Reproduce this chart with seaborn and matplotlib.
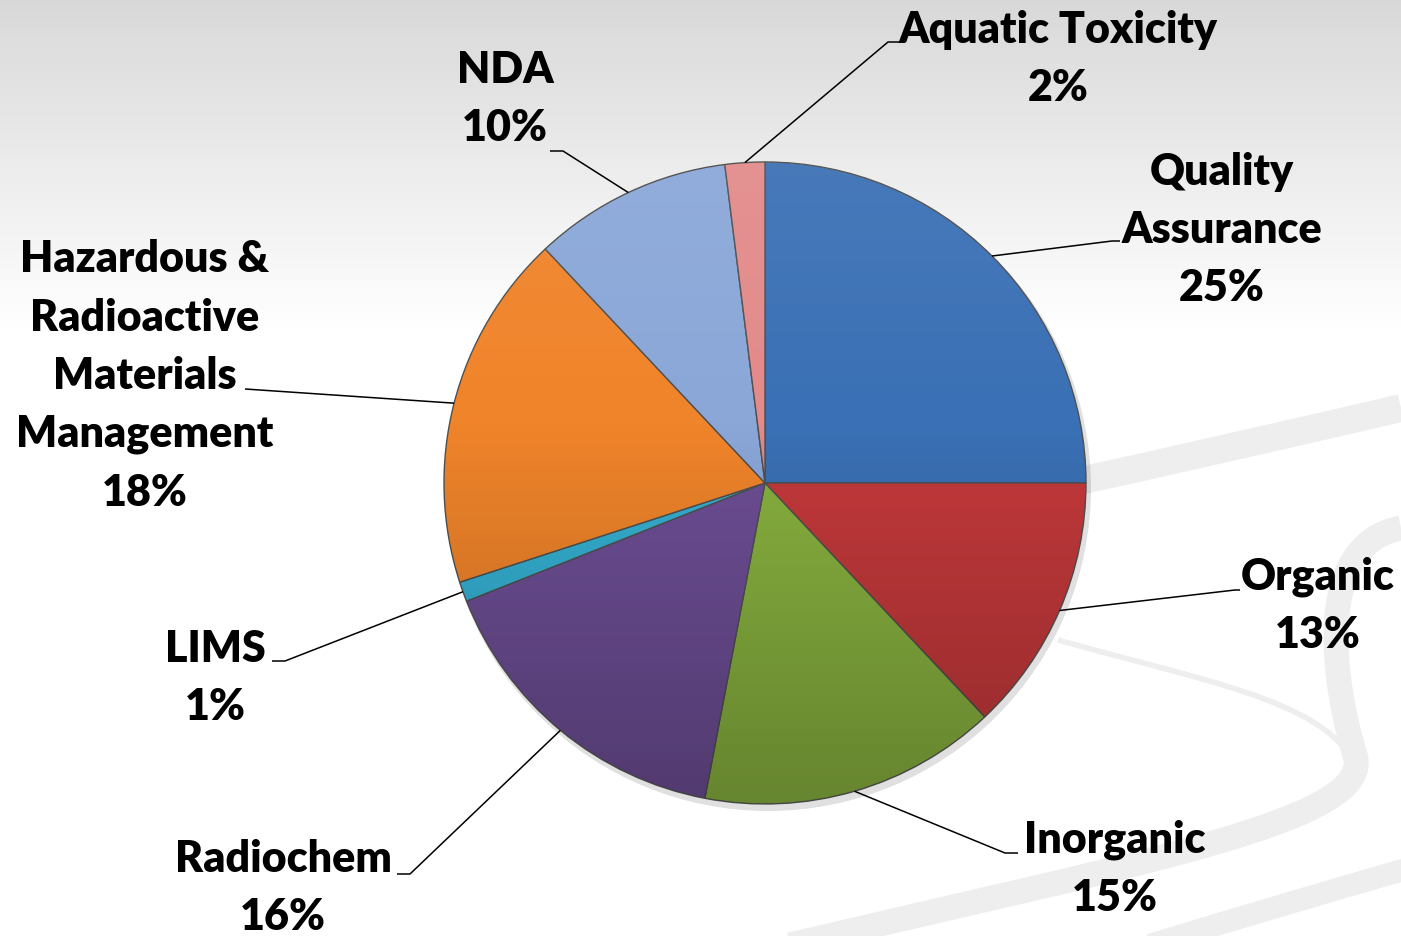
import numpy as np
import matplotlib.pyplot as plt
from matplotlib.path import Path
from matplotlib.patches import PathPatch, Circle
import seaborn as sns

# slice data, clockwise from 12 o'clock
categories = ["Quality\nAssurance", "Organic", "Inorganic", "Radiochem", "LIMS",
              "Hazardous &\nRadioactive\nMaterials\nManagement", "NDA", "Aquatic Toxicity"]
shares = [25, 13, 15, 16, 1, 18, 10, 2]
slice_colors = ["#3a70b5", "#c4393b", "#88b13f", "#6d4e95", "#35b0d2",
                "#f0842a", "#8aa7d8", "#e38a8a"]

# layout (pixels, y measured from top)
label_xy = [(1222, 230), (1318, 606), (1115, 869), (283, 888), (215, 678),
            (145, 376), (505, 99), (1058, 59)]
elbow_xy = [(1112, 241), (1235, 590), (1005, 853), (410, 874), (285, 661),
            (245, 389), (563, 151), (888, 42)]
line_end_x = [1120, 1240, 1018, 397, 272, 245, 550, 900]

W, H = 1401, 936
CENTER = (765, 483)
RADIUS = 321

sns.set_theme(style="white")
plt.rcParams["font.family"] = ["Lato", "DejaVu Sans"]

fig = plt.figure(figsize=(W / 100, H / 100), dpi=100)
ax = fig.add_axes([0, 0, 1, 1])

# background: grey fade at the top, light swooshes on the right
fade = np.linspace(0.85, 1.0, 256).reshape(-1, 1)
ax.imshow(np.dstack([fade, fade, fade]), extent=(0, W, 330, 0), origin="upper",
          aspect="auto", zorder=0, interpolation="bicubic")

swooshes = [
    ([(1075, 482), (1230, 448), (1401, 408)], [Path.MOVETO, Path.CURVE3, Path.CURVE3], 20),
    ([(1401, 528), (1310, 545), (1335, 690), (1355, 755),
      (1375, 820), (1150, 860), (790, 945)],
     [Path.MOVETO, Path.CURVE4, Path.CURVE4, Path.CURVE4,
      Path.CURVE4, Path.CURVE4, Path.CURVE4], 18),
    ([(1058, 640), (1200, 680), (1320, 700), (1352, 760)],
     [Path.MOVETO, Path.CURVE4, Path.CURVE4, Path.CURVE4], 4),
    ([(1150, 945), (1280, 905), (1410, 868)], [Path.MOVETO, Path.CURVE3, Path.CURVE3], 16),
]
for verts, codes, lw in swooshes:
    ax.add_patch(PathPatch(Path(verts, codes), facecolor="none", edgecolor="#eeeeee",
                           lw=lw, capstyle="butt", zorder=1))

# soft shadow under the pie
ax.add_patch(Circle((CENTER[0] + 3, CENTER[1] + 5), RADIUS + 2, color="#000000",
                    alpha=0.12, lw=0, zorder=2))

# y axis is inverted, so startangle -90 / counterclock draws clockwise from the top
wedges, _ = ax.pie(shares, colors=slice_colors, startangle=-90, counterclock=True,
                   center=CENTER, radius=RADIUS,
                   wedgeprops=dict(edgecolor="#505050", linewidth=1.0))
for w in wedges:
    w.set_zorder(3)

# vertical light/dark gradient over the pie for a shaded look
grad = np.zeros((256, 1, 4))
t = np.linspace(0, 1, 256)
grad[:, 0, :3] = np.where(t < 0.4, 1.0, 0.0)[:, None]
grad[:, 0, 3] = np.where(t < 0.4, 0.07 * (1 - t / 0.4), 0.25 * (t - 0.4) / 0.6)
img = ax.imshow(grad, extent=(CENTER[0] - RADIUS, CENTER[0] + RADIUS,
                              CENTER[1] + RADIUS, CENTER[1] - RADIUS),
                origin="upper", aspect="auto", zorder=4, interpolation="bicubic")
img.set_clip_path(Circle(CENTER, RADIUS, transform=ax.transData))

# labels with leader lines
for w, name, share, (lx, ly), (ex, ey), endx in zip(wedges, categories, shares,
                                                     label_xy, elbow_xy, line_end_x):
    mid = np.deg2rad((w.theta1 + w.theta2) / 2)
    sx = CENTER[0] + RADIUS * np.cos(mid)
    sy = CENTER[1] + RADIUS * np.sin(mid)
    ax.plot([sx, ex, endx], [sy, ey, ey], color="black", lw=1.1, zorder=5,
            solid_capstyle="butt")
    ax.text(lx, ly, f"{name}\n{share}%", ha="center", va="center", ma="center",
            fontsize=31, fontweight="heavy", color="black", linespacing=1.55, zorder=6)

ax.set_xlim(0, W)
ax.set_ylim(H, 0)
ax.set_aspect("equal")
ax.axis("off")

fig.savefig("out.png", dpi=100, facecolor="white")
